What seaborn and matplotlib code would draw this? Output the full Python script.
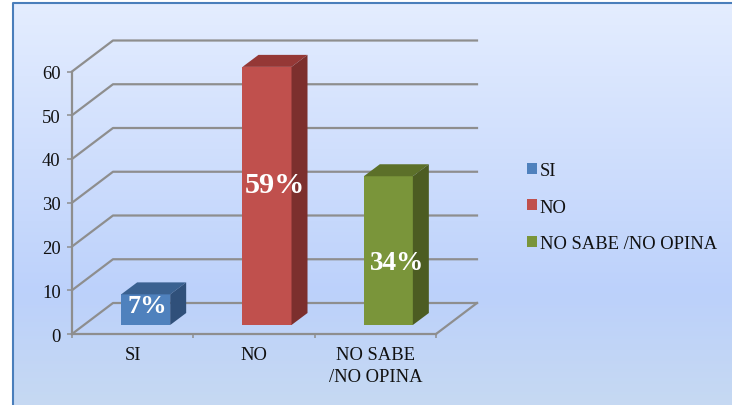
import numpy as np
import seaborn as sns
import matplotlib.pyplot as plt
from matplotlib.colors import LinearSegmentedColormap
from matplotlib.patches import Patch, Polygon
from matplotlib.transforms import Affine2D

categories = ['SI', 'NO', 'NO SABE\n/NO OPINA']
legend_labels = ['SI', 'NO', 'NO SABE /NO OPINA']
values = [7, 59, 34]
value_labels = ['7%', '59%', '34%']
y_ticks = [0, 10, 20, 30, 40, 50, 60]

front_colors = ['#4f81bd', '#c0504d', '#7a953a']
top_colors = ['#3a6190', '#953836', '#5c7029']
side_colors = ['#30507a', '#7c2f2d', '#4c5c22']

W, H = 732, 406
GRID = '#8e8e8e'

plt.rcParams['font.family'] = ['Liberation Serif', 'DejaVu Serif']
fig = plt.figure(figsize=(W / 100, H / 100), dpi=100, facecolor='white')

# fondo con degradado y marco
bg = fig.add_axes([0, 0, 1, 1])
bg.axis('off')
cmap = LinearSegmentedColormap.from_list(
    'fondo', [(0, '#e4edff'), (0.72, '#bcd1fb'), (1, '#c6d9f2')])
bg.imshow(np.linspace(0, 1, 256).reshape(-1, 1), cmap=cmap, aspect='auto',
          extent=(13, 733, 408, 4), zorder=0)
bg.set_xlim(0, W)
bg.set_ylim(H, 0)
bg.plot([13, 13, 733], [408, 4, 4], color='#4a7ebb', lw=1.5, zorder=1)

ax = fig.add_axes([72 / W, 1 - 335 / H, (436 - 72) / W, (335 - 72.5) / H])
ax.patch.set_alpha(0)
sns.barplot(x=categories, y=values, hue=categories, palette=front_colors,
            width=0.404, saturation=1, legend=False, ax=ax, zorder=3)
ax.set_xlim(-0.5, 2.5)
ax.set_ylim(0, 60)

# paredes y suelo en falsa perspectiva
back = ax.transData + Affine2D().translate(41, 31)
for v in y_ticks:
    p0 = ax.transData.transform((-0.5, v))
    p1 = back.transform((-0.5, v))
    p2 = back.transform((2.5, v))
    ax.plot([p0[0], p1[0], p2[0]], [p0[1], p1[1], p2[1]], color=GRID, lw=1.6,
            transform=None, clip_on=False, zorder=1)
p0 = ax.transData.transform((2.5, 0))
p1 = back.transform((2.5, 0))
ax.plot([p0[0], p1[0]], [p0[1], p1[1]], color=GRID, lw=1.6, transform=None,
        clip_on=False, zorder=1)

# barras desplazadas con caras laterales
shift = Affine2D().translate(13, 9)
for bar, top, side in zip(ax.patches, top_colors, side_colors):
    bar.set_transform(ax.transData + shift)
    bar.set_clip_on(False)
    x0, y0 = (ax.transData + shift).transform((bar.get_x(), 0))
    x1, y1 = (ax.transData + shift).transform((bar.get_x() + bar.get_width(), bar.get_height()))
    ax.add_patch(Polygon([(x0, y1), (x1, y1), (x1 + 16, y1 + 12), (x0 + 16, y1 + 12)],
                         closed=True, facecolor=top, edgecolor='none',
                         transform=None, clip_on=False, zorder=3))
    ax.add_patch(Polygon([(x1, y0), (x1 + 16, y0 + 12), (x1 + 16, y1 + 12), (x1, y1)],
                         closed=True, facecolor=side, edgecolor='none',
                         transform=None, clip_on=False, zorder=3))

label_offsets = [(15, 4), (21, 11), (22, -12)]
label_sizes = [19, 21.8, 19.5]
for i, (v, text, off, size) in enumerate(zip(values, value_labels, label_offsets, label_sizes)):
    ax.annotate(text, xy=(i, v / 2), xytext=(off[0] * 0.72, (off[1] + 9) * 0.72),
                textcoords='offset points', ha='center', va='center',
                color='white', fontsize=size, fontweight='bold', zorder=5)

sns.despine(ax=ax)
for name in ('left', 'bottom'):
    ax.spines[name].set_color(GRID)
    ax.spines[name].set_linewidth(1.6)
ax.set_yticks(y_ticks)
ax.tick_params(axis='y', length=3.6, width=1.1, color=GRID, pad=4.5,
               labelsize=13.4, labelcolor='#111111')
ax.set_xticks([-0.5, 0.5, 1.5, 2.5], minor=True)
ax.tick_params(axis='x', which='minor', length=3, width=1.1, color=GRID)
ax.tick_params(axis='x', which='major', length=0, pad=8.5, labelsize=13.4,
               labelcolor='#111111')
for tick in ax.get_xticklabels():
    tick.set_linespacing(1.38)
ax.set_xlabel('')
ax.set_ylabel('')

handles = [Patch(facecolor=c, edgecolor='none', label=t)
           for c, t in zip(front_colors, legend_labels)]
fig.legend(handles=handles, loc='upper left', frameon=False, fontsize=13.4,
           bbox_to_anchor=(527 / W, 1 - 163 / H), borderpad=0, borderaxespad=0,
           handlelength=0.54, handleheight=0.54, handletextpad=0.15,
           labelspacing=1.05, labelcolor='#111111')

fig.savefig('out.png', dpi=100)
